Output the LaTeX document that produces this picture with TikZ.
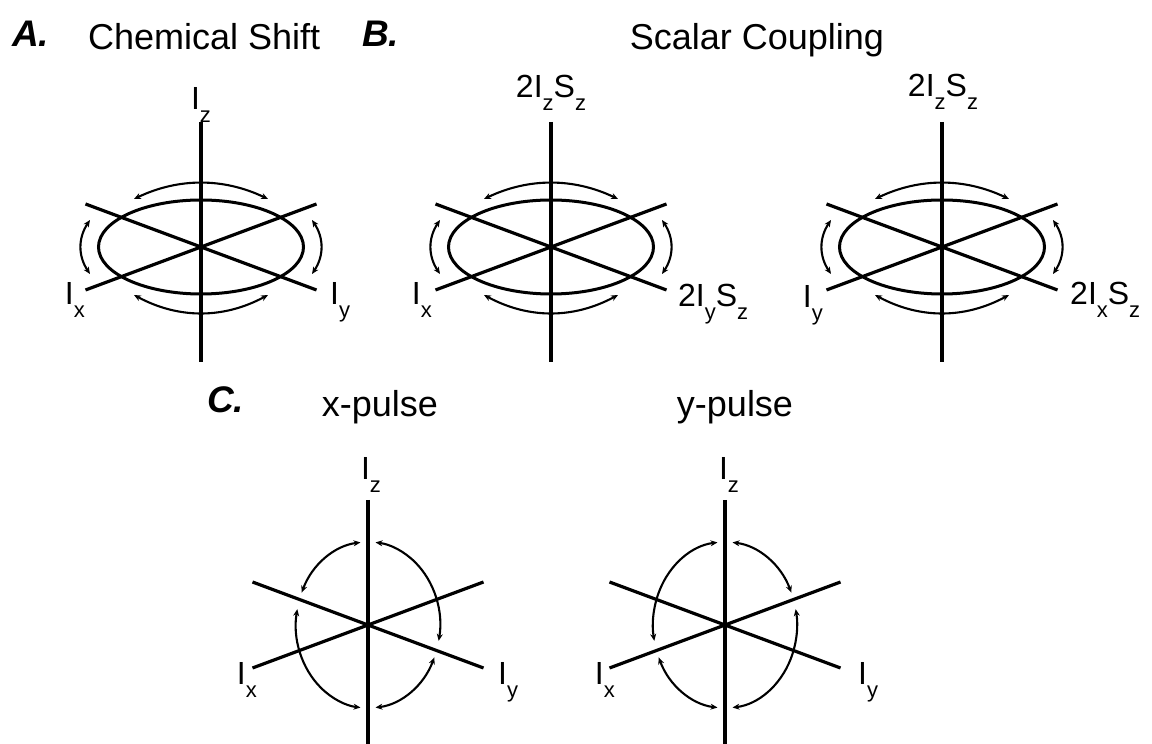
\documentclass[tikz,border=0pt]{standalone}
\usepackage{fontspec}
\setmainfont{Liberation Sans}
\usetikzlibrary{arrows.meta}
\newcommand{\sbs}[1]{\raisebox{-0.40em}{\fontsize{22}{22}\selectfont #1}}
\begin{document}
\begin{tikzpicture}[x=1pt,y=1pt,
  axis/.style={line width=3.2pt},
  ring/.style={line width=3pt},
  rot/.style={line width=2.1pt,{Stealth[length=7pt,width=6pt]}-{Stealth[length=7pt,width=6pt]}},
  ttl/.style={font=\fontsize{36}{36}\selectfont,inner sep=0pt},
  letter/.style={font=\fontsize{37}{37}\selectfont\bfseries\itshape,inner sep=0pt,anchor=base west},
  lab/.style={font=\fontsize{32}{32}\selectfont,inner sep=0pt}]
\useasboundingbox (0,0) rectangle (1152,744);

% titles
\node[letter] (tA) at (12,697) {A.};
\node[ttl,anchor=base west] (tChem) at (88,694) {Chemical Shift};
\node[letter] (tB) at (362,697) {B.};
\node[ttl,anchor=base] (tScal) at (757,694) {Scalar Coupling};
\node[letter] (tC) at (207,331) {C.};
\node[ttl,anchor=base] (tXp) at (380,327) {x-pulse};
\node[ttl,anchor=base] (tYp) at (735,327) {y-pulse};

% flat panels (A, B1, B2)
\foreach \cx in {201,551,942}{
\begin{scope}[shift={(\cx,497)}]
  \draw[axis] (0,125) -- (0,-115);
  \draw[axis] (-115.5,43) -- (115.5,-43);
  \draw[axis] (-115.5,-43) -- (115.5,43);
  \draw[ring] (0,0) ellipse [x radius=102.5, y radius=47];
  \draw[rot] (-67,48) .. controls (-22.3,69.3) and (22.3,69.3) .. (67,48);
  \draw[rot] (-67,-48) .. controls (-22.3,-72) and (22.3,-72) .. (67,-48);
  \draw[rot] (-111,27) .. controls (-123,9) and (-123,-9) .. (-111,-27);
  \draw[rot] (111,27) .. controls (123,9) and (123,-9) .. (111,-27);
\end{scope}
}

% labels A
\begin{scope}[shift={(201,497)}]
  \node[lab,anchor=base] (Az) at (0,137) {I\sbs{z}};
  \node[lab,anchor=base east] (Ax) at (-116,-58) {I\sbs{x}};
  \node[lab,anchor=base west] (Ay) at (129,-58) {I\sbs{y}};
\end{scope}
% labels B1
\begin{scope}[shift={(551,497)}]
  \node[lab,anchor=base] (Bz) at (0,149) {2I\sbs{z}S\sbs{z}};
  \node[lab,anchor=base east] (Bx) at (-119,-58) {I\sbs{x}};
  \node[lab,anchor=base west] (By) at (127,-60) {2I\sbs{y}S\sbs{z}};
\end{scope}
% labels B2
\begin{scope}[shift={(942,497)}]
  \node[lab,anchor=base] (Cz) at (1,150) {2I\sbs{z}S\sbs{z}};
  \node[lab,anchor=base east] (Cy) at (-119,-61) {I\sbs{y}};
  \node[lab,anchor=base west] (Cx) at (128,-58) {2I\sbs{x}S\sbs{z}};
\end{scope}

% pulse panels
\foreach \cx/\angs in {368/{96/157,169/264,276/337,349/444},725/{23/84,96/191,203/264,276/371}}{
\begin{scope}[shift={(\cx,119)}]
  \draw[axis] (0,125) -- (0,-130);
  \draw[axis] (-115.5,43) -- (115.5,-43);
  \draw[axis] (-115.5,-43) -- (115.5,43);
  \foreach \a/\b in \angs {
    \draw[rot] (\a:72 and 83) arc[start angle=\a, end angle=\b, x radius=72, y radius=83];
  }
\end{scope}
}
\begin{scope}[shift={(368,119)}]
  \node[lab,anchor=base] (Dz) at (3,145) {I\sbs{z}};
  \node[lab,anchor=base east] (Dx) at (-111,-60) {I\sbs{x}};
  \node[lab,anchor=base west] (Dy) at (130,-60) {I\sbs{y}};
\end{scope}
\begin{scope}[shift={(725,119)}]
  \node[lab,anchor=base] (Ez) at (4,145) {I\sbs{z}};
  \node[lab,anchor=base east] (Ex) at (-110,-60) {I\sbs{x}};
  \node[lab,anchor=base west] (Ey) at (133,-60) {I\sbs{y}};
\end{scope}
\end{tikzpicture}
\end{document}
